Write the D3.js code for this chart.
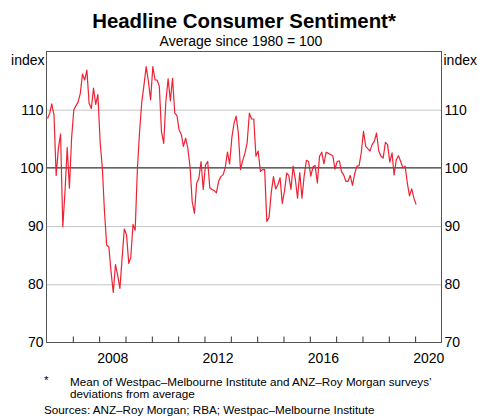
<!DOCTYPE html>
<html>
<head>
<meta charset="utf-8">
<script src="https://cdn.jsdelivr.net/npm/d3@7"></script>
<style>
  body { margin: 0; background: #fff; }
  svg text { font-family: Arial, "Liberation Sans", sans-serif; fill: #000; }
</style>
</head>
<body>
<div id="chart"></div>
<script>
// Monthly series, Jan 2006 to Jan 2020 (index, average since 1980 = 100)
var startYear = 2006, startMonth = 0;
var sentiment = [
  108.5, 109.4, 111.0, 109.1, 98.7, 103.4, 105.8, 89.9, 96.0, 103.5, 96.5, 105.1,
  110.0, 110.7, 111.3, 112.8, 116.1, 115.1, 116.8, 111.1, 110.2, 113.7, 110.9, 112.6,
  104.5, 99.9, 92.5, 86.7, 86.4, 82.1, 78.6, 83.4, 81.5, 79.3, 84.5, 89.5,
  88.5, 83.6, 84.6, 90.3, 89.3, 99.9, 106.2, 111.4, 114.3, 117.4, 114.8, 111.7,
  117.4, 115.1, 115.1, 114.0, 106.2, 104.2, 111.5, 115.3, 111.5, 115.4, 109.4, 109.0,
  106.5, 105.7, 103.7, 105.1, 103.4, 100.2, 94.2, 92.2, 97.4, 98.2, 101.1, 96.3,
  100.5, 101.1, 96.6, 96.3, 96.1, 95.7, 97.7, 98.5, 98.8, 100.0, 102.7, 100.7,
  105.2, 107.7, 108.9, 106.0, 99.7, 101.3, 102.5, 104.3, 109.4, 108.4, 108.4, 102.0,
  102.9, 99.4, 99.7, 99.7, 90.8, 91.5, 95.7, 98.5, 96.4, 97.1, 98.3, 93.9,
  96.0, 99.1, 98.7, 96.3, 100.3, 98.0, 94.8, 99.2, 94.8, 98.6, 101.3, 101.1,
  98.6, 100.2, 100.4, 97.4, 102.0, 102.7, 100.7, 102.7, 102.5, 102.3, 102.1, 99.8,
  101.1, 101.2, 99.4, 98.8, 97.7, 97.7, 98.7, 97.0, 99.0, 100.3, 100.4, 102.6,
  106.3, 103.7, 103.3, 102.9, 104.0, 104.6, 106.0, 102.9, 102.0, 101.7, 104.4, 104.0,
  101.0, 102.6, 98.8, 101.4, 102.1, 101.1, 100.0, 100.3, 97.4, 95.2, 96.4, 94.8,
  93.7
];

var yTicks = [70, 80, 90, 100, 110];
var yearLabels = [2008, 2012, 2016, 2020];
var tickYears = d3.range(2007, 2021);

var width = 481, height = 417;
var margin = {top: 51.5, right: 39.5, bottom: 74.5, left: 46.5};
var w = width - margin.left - margin.right,
    h = height - margin.top - margin.bottom;

var data = sentiment.map(function(v, i) {
  return {date: new Date(startYear, startMonth + i, 15), value: v};
});

var x = d3.scaleTime()
  .domain([new Date(2006, 0, 1), new Date(2021, 0, 1)])
  .range([0, w]);

var y = d3.scaleLinear()
  .domain([70, 120])
  .range([h, 0]);

var svg = d3.select("#chart")
  .append("svg")
  .attr("width", width)
  .attr("height", height);

// titles
svg.append("text")
  .attr("x", 244)
  .attr("y", 28)
  .attr("text-anchor", "middle")
  .style("font-size", "20.4px")
  .style("font-weight", "bold")
  .text("Headline Consumer Sentiment*");

svg.append("text")
  .attr("x", 241)
  .attr("y", 46)
  .attr("text-anchor", "middle")
  .style("font-size", "14px")
  .text("Average since 1980 = 100");

var g = svg.append("g")
  .attr("transform", "translate(" + margin.left + "," + margin.top + ")");

// gridlines
var grid = g.append("g")
  .attr("class", "grid")
  .call(d3.axisLeft(y).tickValues([80, 90, 110]).tickSize(-w).tickFormat(""));
grid.select(".domain").remove();
grid.selectAll("line").attr("stroke", "#c4c4c4").attr("stroke-width", 1);

// 100 line
g.append("line")
  .attr("x1", 0).attr("x2", w)
  .attr("y1", y(100)).attr("y2", y(100))
  .attr("stroke", "#000")
  .attr("stroke-width", 1);

// series
var line = d3.line()
  .x(function(d) { return x(d.date); })
  .y(function(d) { return y(d.value); });

g.append("path")
  .datum(data)
  .attr("fill", "none")
  .attr("stroke", "#ee2233")
  .attr("stroke-width", 1.2)
  .attr("stroke-linejoin", "round")
  .attr("d", line);

// frame
g.append("rect")
  .attr("width", w)
  .attr("height", h)
  .attr("fill", "none")
  .attr("stroke", "#555")
  .attr("stroke-width", 1);

// x ticks (year starts) inside plot
var xt = g.append("g")
  .attr("transform", "translate(0," + h + ")")
  .call(d3.axisBottom(x)
    .tickValues(tickYears.map(function(yr) { return new Date(yr, 0, 1); }))
    .tickSize(-6)
    .tickFormat(""));
xt.select(".domain").remove();
xt.selectAll("line").attr("stroke", "#333");

// x labels centred in each year
var xl = g.append("g")
  .attr("transform", "translate(0," + h + ")")
  .call(d3.axisBottom(x)
    .tickValues(yearLabels.map(function(yr) { return new Date(yr, 6, 1); }))
    .tickSize(0)
    .tickPadding(10.5)
    .tickFormat(d3.timeFormat("%Y")));
xl.select(".domain").remove();
xl.selectAll("text").style("font-size", "14px").attr("fill", "#000");

// y labels both sides
var yl = g.append("g")
  .call(d3.axisLeft(y).tickValues(yTicks).tickSize(0).tickPadding(3));
yl.select(".domain").remove();
yl.selectAll("text").style("font-size", "14px").attr("fill", "#000");

var yr = g.append("g")
  .attr("transform", "translate(" + w + ",0)")
  .call(d3.axisRight(y).tickValues(yTicks).tickSize(0).tickPadding(3));
yr.select(".domain").remove();
yr.selectAll("text").style("font-size", "14px").attr("fill", "#000");

// unit labels
svg.append("text")
  .attr("x", margin.left - 2)
  .attr("y", 65)
  .attr("text-anchor", "end")
  .style("font-size", "14px")
  .text("index");

svg.append("text")
  .attr("x", margin.left + w + 2)
  .attr("y", 65)
  .attr("text-anchor", "start")
  .style("font-size", "14px")
  .text("index");

// notes
svg.append("text")
  .attr("x", 44)
  .attr("y", 384)
  .style("font-size", "11.7px")
  .text("*");

svg.append("text")
  .attr("x", 70)
  .attr("y", 386)
  .style("font-size", "11.7px")
  .text("Mean of Westpac\u2013Melbourne Institute and ANZ\u2013Roy Morgan surveys\u2019");

svg.append("text")
  .attr("x", 70)
  .attr("y", 398)
  .style("font-size", "11.7px")
  .text("deviations from average");

svg.append("text")
  .attr("x", 44)
  .attr("y", 414)
  .style("font-size", "11.7px")
  .text("Sources: ANZ\u2013Roy Morgan; RBA; Westpac\u2013Melbourne Institute");
</script>
</body>
</html>
